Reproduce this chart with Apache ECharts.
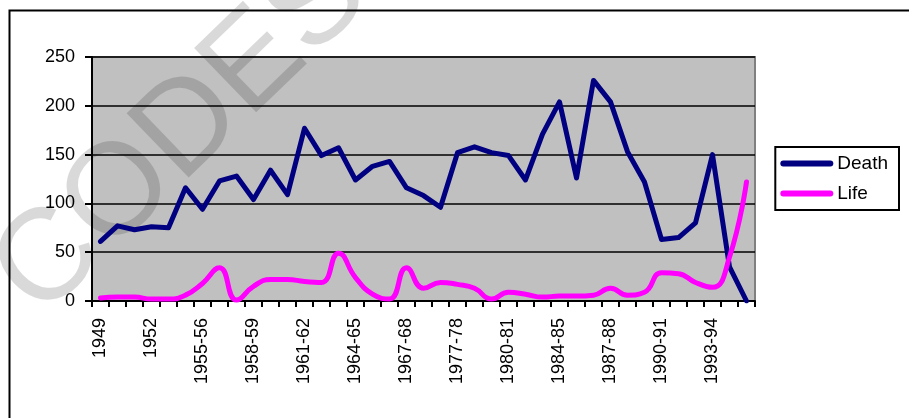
<!DOCTYPE html>
<html>
<head>
<meta charset="utf-8">
<script src="https://cdn.jsdelivr.net/npm/echarts@6/dist/echarts.min.js"></script>
<style>
html,body{margin:0;padding:0;background:#fff;}
#c{width:909px;height:418px;}
</style>
</head>
<body>
<div id="c"></div>
<script>
const categories = ['1949','1950','1951','1952','1953','1954','1955-56','1956-57','1957-58','1958-59',
  '1959-60','1960-61','1961-62','1962-63','1963-64','1964-65','1965-66','1966-67','1967-68','1968-69',
  '1976-77','1977-78','1978-79','1979-80','1980-81','1981-82','1983-84','1984-85','1985-86','1986-87',
  '1987-88','1988-89','1989-90','1990-91','1991-92','1992-93','1993-94','1994-95','1995-96'];
const death = [61,77,73,76,75,116,94,123,128,104,134,109,177,149,157,124,138,143,116,108,
  96,152,158,152,149,124,171,204,126,226,204,153,122,63,65,80,150,35,0];
const life = [3,4,4,2,2,6,18,34,1,15,22,22,20,19,49,24,7,2,34,13,
  19,17,13,2,9,7,4,5,5,6,13,6,9,29,28,19,14,45,122];
const yTicks = {min:0, max:250, interval:50};
const watermark = 'CODES';

const FONT = "'Liberation Sans', Arial, sans-serif";
const chart = echarts.init(document.getElementById('c'), null, {renderer:'canvas'});
chart.setOption({
  animation:false,
  backgroundColor:'#fff',
  graphic:[
    {type:'rect', shape:{x:9.5,y:10.5,width:1000,height:1000}, style:{fill:'none',stroke:'#000',lineWidth:2}, z:-10, silent:true},
    {type:'text', x:182, y:134, rotation:44*Math.PI/180, z:1, silent:true,
     style:{text:watermark, font:"130px 'Liberation Sans', Arial, sans-serif", fill:'rgba(0,0,0,0.15)', align:'center', verticalAlign:'middle'}}
  ],
  grid:{left:92,right:154,top:57,bottom:117,show:true,backgroundColor:'#C0C0C0',borderColor:'#808080',borderWidth:2},
  legend:{
    right:10, top:147, orient:'vertical',
    data:['Death','Life'],
    icon:'path://M3,0 L50,0 A3,3 0 0 1 50,6 L3,6 A3,3 0 0 1 3,0 Z',
    itemWidth:53, itemHeight:6, itemGap:11,
    padding:[7,11,7,5],
    borderColor:'#000', borderWidth:2, borderRadius:0,
    textStyle:{fontFamily:FONT,fontSize:19,color:'#000',padding:[0,0,0,-1]}
  },
  xAxis:{
    type:'category', data:categories, boundaryGap:true,
    axisLine:{lineStyle:{color:'#000',width:2}},
    axisTick:{show:true,interval:0,length:6,lineStyle:{color:'#000',width:2}},
    axisLabel:{interval:2,rotate:90,margin:17,fontFamily:FONT,fontSize:18,color:'#000'},
    splitLine:{show:false}
  },
  yAxis:{
    type:'value', min:yTicks.min, max:yTicks.max, interval:yTicks.interval,
    axisLine:{show:true,lineStyle:{color:'#000',width:2}},
    axisTick:{show:true,length:7,lineStyle:{color:'#000',width:2}},
    axisLabel:{margin:17,fontFamily:FONT,fontSize:18,color:'#000'},
    splitLine:{show:true,lineStyle:{color:'#000',width:1.5}}
  },
  series:[
    {name:'Death',type:'line',data:death,symbol:'none',z:3,
     lineStyle:{color:'#000080',width:5,join:'round',cap:'round'},itemStyle:{color:'#000080'}},
    {name:'Life',type:'line',data:life,symbol:'none',smooth:0.5,z:4,
     lineStyle:{color:'#FF00FF',width:5,join:'round',cap:'round'},itemStyle:{color:'#FF00FF'}}
  ]
});
</script>
</body>
</html>
